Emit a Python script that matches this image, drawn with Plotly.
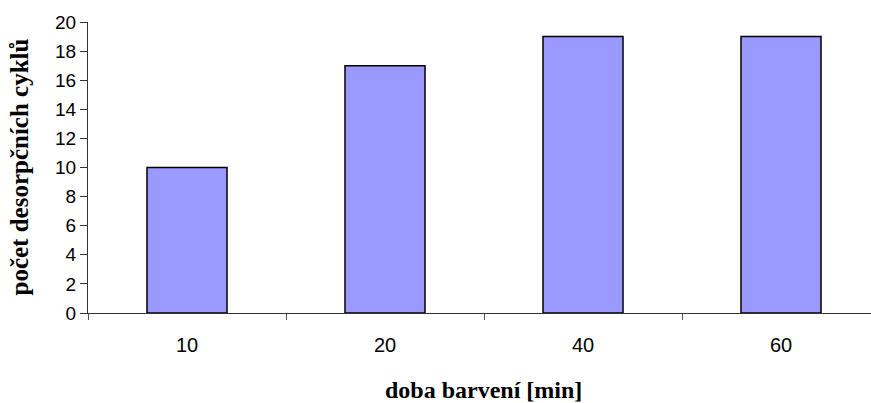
import plotly.graph_objects as go

# Dyeing time categories and number of desorption cycles
doba_barveni = ["10", "20", "40", "60"]
pocet_cyklu = [10, 17, 19, 19]
y_ticks = list(range(0, 21, 2))

W, H = 871, 403
ML, MR, MT, MB = 88, 0, 22, 90
plot_w = W - ML - MR
cat_px = 198  # width of one category slot in px

fig = go.Figure(
    go.Bar(
        x=list(range(len(doba_barveni))),
        y=pocet_cyklu,
        width=0.404,
        marker=dict(color="#9999FF", line=dict(color="#000000", width=1.5)),
    )
)

fig.update_layout(
    width=W,
    height=H,
    margin=dict(l=ML, r=MR, t=MT, b=MB, pad=0),
    paper_bgcolor="white",
    plot_bgcolor="white",
    showlegend=False,
    font=dict(family="Arial, Liberation Sans", size=19, color="black"),
    xaxis=dict(
        range=[-0.5, -0.5 + plot_w / cat_px],
        tickmode="array",
        tickvals=[i - 0.5 for i in range(len(doba_barveni) + 1)],
        ticktext=[""] * (len(doba_barveni) + 1),
        ticks="outside",
        ticklen=6,
        tickcolor="#555555",
        showline=True,
        linecolor="#333333",
        linewidth=1,
        showgrid=False,
        zeroline=False,
        fixedrange=True,
    ),
    yaxis=dict(
        range=[0, 20],
        tickvals=y_ticks,
        ticks="outside",
        ticklen=7,
        tickcolor="#333333",
        showline=True,
        linecolor="#333333",
        linewidth=1,
        showgrid=False,
        zeroline=False,
        tickfont=dict(size=19),
    ),
)

# Category labels centred under each bar
for i, lab in enumerate(doba_barveni):
    fig.add_annotation(
        x=i, y=0, xref="x", yref="y", text=lab, showarrow=False,
        yanchor="top", yshift=-19, font=dict(size=20),
    )

fig.add_annotation(
    x=(483 - ML) / plot_w, y=(H - MB - 390) / (H - MT - MB),
    xref="paper", yref="paper", text="<b>doba barvení [min]</b>",
    showarrow=False, xanchor="center", yanchor="middle",
    font=dict(family="Times New Roman, Liberation Serif", size=24),
)
fig.add_annotation(
    x=(19 - ML) / plot_w, y=0.5,
    xref="paper", yref="paper", text="<b>počet desorpčních cyklů</b>",
    showarrow=False, xanchor="center", yanchor="middle", textangle=-90,
    font=dict(family="Times New Roman, Liberation Serif", size=25),
)

fig.write_html("out.html")
